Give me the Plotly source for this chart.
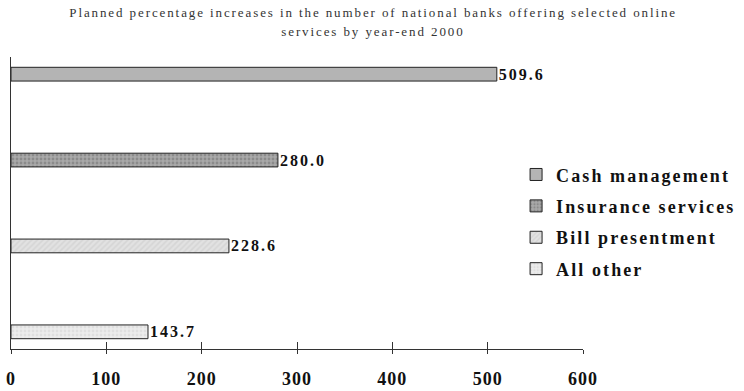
import plotly.graph_objects as go

# Planned increases (%) by online service, top to bottom
services = ["Cash management", "Insurance services", "Bill presentment", "All other"]
increases = [509.6, 280.0, 228.6, 143.7]
x_ticks = [0, 100, 200, 300, 400, 500, 600]
title_lines = [
    "Planned percentage increases in the number of national banks offering selected online",
    "services by year-end 2000",
]

fills = ["#b4b4b4", "#a9a9a9", "#e2e2e2", "#ececec"]
patterns = ["", ".", "/", "."]
pattern_fg = ["#b4b4b4", "#6e6e6e", "#c8c8c8", "#d2d2d2"]

serif = "Liberation Serif, Times New Roman, serif"

fig = go.Figure()
for name, val, fc, pat, pfg in zip(services, increases, fills, patterns, pattern_fg):
    fig.add_trace(go.Bar(
        y=[name], x=[val], name=name, legendgroup=name, orientation="h", width=0.16,
        marker=dict(color=fc, line=dict(color="#222222", width=1),
                    pattern=dict(shape=pat, fgcolor=pfg, bgcolor=fc, size=4, solidity=0.4)),
        texttemplate="%{x:.1f}", textposition="outside", constraintext="none",
        textfont=dict(family=serif, size=16, color="#111111", weight="bold"),
        outsidetextfont=dict(family=serif, size=16, color="#111111", weight="bold"),
        cliponaxis=False,
    ))

# second x axis only carries the short outward tick marks
fig.add_trace(go.Scatter(x=[0], y=[services[-1]], xaxis="x2", mode="markers",
                         marker=dict(opacity=0), showlegend=False, hoverinfo="skip"))

# two-line heading
for txt, ypos in zip(title_lines, [1.1507, 1.089]):
    fig.add_annotation(text=txt, xref="paper", yref="paper", x=0.633, y=ypos,
                       xanchor="center", yanchor="middle", showarrow=False,
                       font=dict(family=serif, size=13, color="#333333"))

fig.update_layout(
    width=744, height=391,
    margin=dict(l=11, r=161, t=57, b=42, autoexpand=False),
    paper_bgcolor="white", plot_bgcolor="white",
    barmode="overlay",
    xaxis=dict(range=[0, 600], tickvals=x_ticks, ticks="inside", ticklen=7, tickcolor="#333333",
               showline=True, linecolor="#333333", linewidth=1, showgrid=False, zeroline=False,
               tickfont=dict(family=serif, size=18, color="#111111", weight="bold"),
               ticklabelstandoff=13),
    xaxis2=dict(range=[0, 600], tickvals=x_ticks, overlaying="x", side="bottom", ticks="outside",
                ticklen=4, tickcolor="#333333", showticklabels=False, showgrid=False,
                zeroline=False, showline=False),
    yaxis=dict(categoryorder="array", categoryarray=services[::-1], range=[-0.2, 3.2],
               showticklabels=False, ticks="", showline=True, linecolor="#333333",
               linewidth=1, showgrid=False, zeroline=False),
    legend=dict(x=0.883, y=0.66, xanchor="left", yanchor="top", traceorder="grouped",
                font=dict(family=serif, size=18, color="#111111", weight="bold"),
                itemwidth=30, tracegroupgap=5, bgcolor="rgba(0,0,0,0)"),
    showlegend=True,
)

# Excel-style widely tracked lettering; legend entries may run past the legend box
post = """
var gd = document.getElementsByClassName('plotly-graph-div')[0];
function track(){
  gd.querySelectorAll('.legendtext').forEach(function(e){e.style.letterSpacing='2.1px';});
  gd.querySelectorAll('.annotation-text').forEach(function(e){e.style.letterSpacing='1.9px';});
  gd.querySelectorAll('.xtick text').forEach(function(e){e.style.letterSpacing='1px';});
  gd.querySelectorAll('.bartext').forEach(function(e){e.style.letterSpacing='2px'; e.setAttribute('dx','4');});
  gd.querySelectorAll('.legend [clip-path], .legend').forEach(function(e){e.removeAttribute('clip-path');});
}
track();
gd.on('plotly_afterplot', track);
"""

fig.write_html("out.html", post_script=post)
